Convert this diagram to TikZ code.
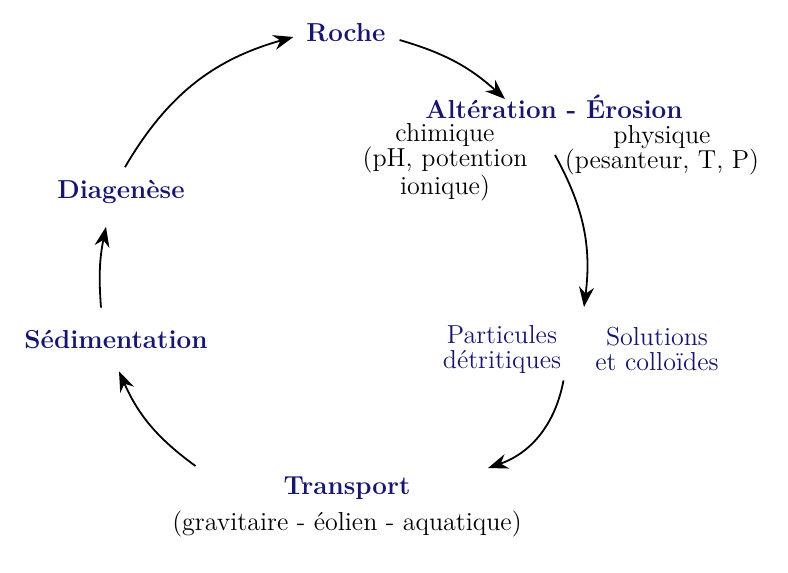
\documentclass[tikz,border=0pt]{standalone}
\usepackage{tikz}
\usetikzlibrary{arrows.meta,calc}
\definecolor{nuit}{RGB}{22,22,110}
\tikzset{
  etape/.style={text=nuit,font=\fontsize{13}{15}\selectfont\bfseries},
  detail/.style={font=\fontsize{13}{12.5}\selectfont,align=center,inner sep=1pt},
  fleche/.style={-{Stealth[length=10pt,width=7.5pt]},line width=0.9pt,bend left=#1},
  fleche/.default=25
}
\begin{document}
\begin{tikzpicture}[x=0.5pt,y=-0.5pt]
\useasboundingbox (0,0) rectangle (788,573);
\node[etape] (roche) at (346,33) {Roche};
\node[etape] (alt) at (554,107) {Alt\'eration - \'Erosion};
\node[detail] (chim) at (445,162) {chimique\\(pH, potention\\ionique)};
\node[detail,anchor=north] (phys) at (662,123) {physique\\(pesanteur, T, P)};
\node[detail,text=nuit] (part) at (502,349) {Particules\\d\'etritiques};
\node[detail,text=nuit] (sol) at (657,349) {Solutions\\et collo\"ides};
\node[etape] (trans) at (347,488) {Transport};
\node[detail,anchor=north] (grav) at (347,509) {(gravitaire - \'eolien - aquatique)};
\node[etape] (sedi) at (116,340) {S\'edimentation};
\node[etape] (diag) at (121,192) {Diagen\`ese};
% points libres du cycle
\coordinate (dep) at (555,155); \coordinate (arr) at (584,307);
\coordinate (tr) at (488,468);
\draw[fleche=13] ([shift={(7,7)}]roche.east) to ([shift={(-49,11)}]alt.north);
\draw[fleche=18] (dep) to (arr);
\draw[fleche=30] ([shift={(0,5)}]part.south east) to (tr);
\draw[fleche=15] ([shift={(-81,-22)}]trans.west) to ([shift={(3,15)}]sedi.south);
\draw[fleche=8] ([shift={(-15,-16)}]sedi.north) to ([shift={(-15,16)}]diag.south);
\draw[fleche=22] ([shift={(4,-6)}]diag.north) to ([shift={(-6,4)}]roche.west);
\end{tikzpicture}
\end{document}
